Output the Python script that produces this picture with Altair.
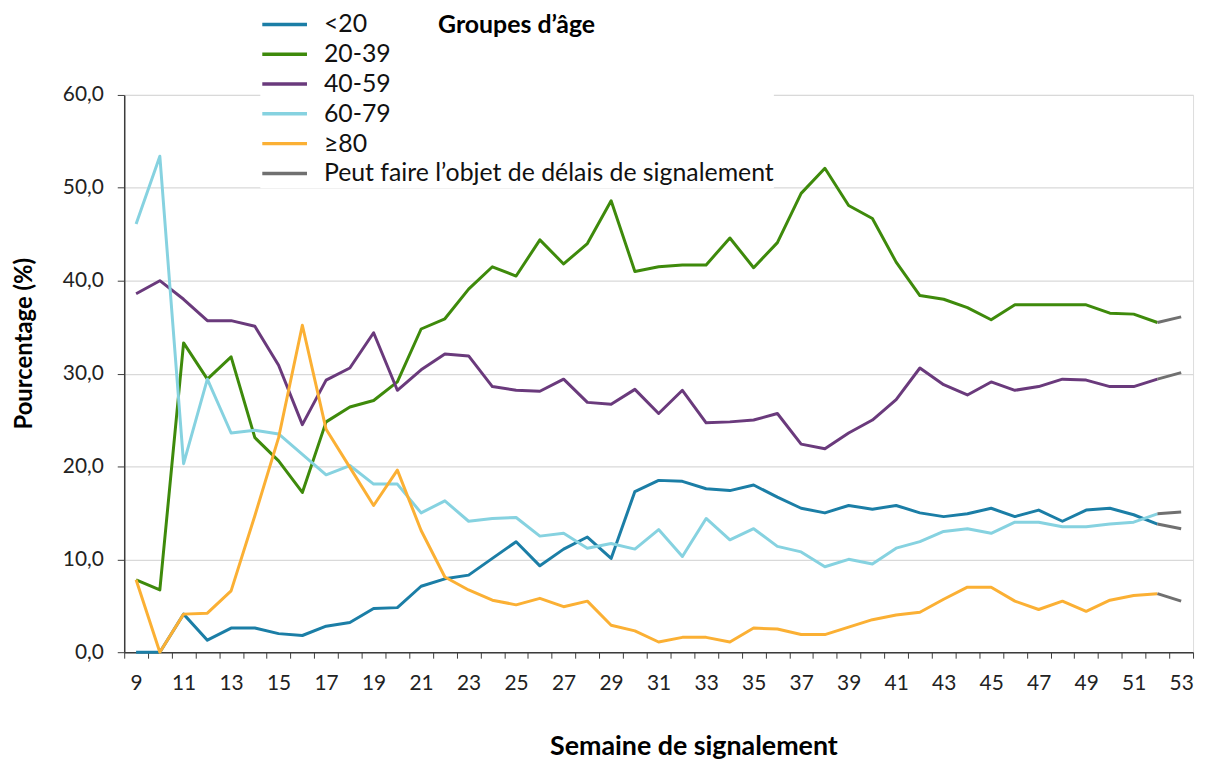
import altair as alt
import pandas as pd

weeks = list(range(9, 54))

series_names = ["<20", "20-39", "40-59", "60-79", "≥80"]
delay_name = "Peut faire l’objet de délais de signalement"

v_lt20 = [0.0, 0.0, 4.1, 1.3, 2.6, 2.6, 2.0, 1.8, 2.8, 3.2, 4.7, 4.8, 7.1, 7.9, 8.3,
          10.1, 11.9, 9.3, 11.1, 12.4, 10.1, 17.3, 18.5, 18.4, 17.6, 17.4, 18.0, 16.7,
          15.5, 15.0, 15.8, 15.4, 15.8, 15.0, 14.6, 14.9, 15.5, 14.6, 15.3, 14.1, 15.3,
          15.5, 14.8, 13.8, 13.3]
v_20_39 = [7.8, 6.7, 33.3, 29.4, 31.8, 23.1, 20.6, 17.2, 24.8, 26.4, 27.1, 29.1, 34.8,
           35.9, 39.1, 41.5, 40.5, 44.4, 41.8, 44.0, 48.6, 41.0, 41.5, 41.7, 41.7, 44.6,
           41.4, 44.1, 49.4, 52.1, 48.1, 46.7, 42.0, 38.4, 38.0, 37.1, 35.8, 37.4, 37.4,
           37.4, 37.4, 36.5, 36.4, 35.5, 36.1]
v_40_59 = [38.6, 40.0, 38.0, 35.7, 35.7, 35.1, 30.9, 24.5, 29.3, 30.6, 34.4, 28.2, 30.4,
           32.1, 31.9, 28.6, 28.2, 28.1, 29.4, 26.9, 26.7, 28.3, 25.7, 28.2, 24.7, 24.8,
           25.0, 25.7, 22.4, 21.9, 23.6, 25.0, 27.2, 30.6, 28.8, 27.7, 29.1, 28.2, 28.6,
           29.4, 29.3, 28.6, 28.6, 29.4, 30.1]
v_60_79 = [46.1, 53.4, 20.3, 29.4, 23.6, 23.9, 23.5, 21.3, 19.1, 20.1, 18.1, 18.1, 15.0,
           16.3, 14.1, 14.4, 14.5, 12.5, 12.8, 11.2, 11.7, 11.1, 13.2, 10.3, 14.4, 12.1,
           13.3, 11.4, 10.8, 9.2, 10.0, 9.5, 11.2, 11.9, 13.0, 13.3, 12.8, 14.0, 14.0,
           13.5, 13.5, 13.8, 14.0, 14.9, 15.1]
v_80 = [7.8, 0.0, 4.1, 4.2, 6.6, 14.7, 23.1, 35.2, 24.0, 19.9, 15.8, 19.6, 13.1, 8.1,
        6.7, 5.6, 5.1, 5.8, 4.9, 5.5, 2.9, 2.3, 1.1, 1.6, 1.6, 1.1, 2.6, 2.5, 1.9, 1.9,
        2.7, 3.5, 4.0, 4.3, 5.7, 7.0, 7.0, 5.5, 4.6, 5.5, 4.4, 5.6, 6.1, 6.3, 5.5]

colors = ["#1B7EA6", "#3E8A0B", "#6A3A7C", "#86D2E0", "#FBB034", "#707070"]

all_values = [v_lt20, v_20_39, v_40_59, v_60_79, v_80]
last_full_week = 52

rows = []
for name, vals in zip(series_names, all_values):
    for w, v in zip(weeks, vals):
        if w <= last_full_week:
            rows.append({"week": w, "value": v, "cat": name, "line": name})
        if w >= last_full_week:
            rows.append({"week": w, "value": v, "cat": delay_name, "line": name + " delai"})
df = pd.DataFrame(rows)

FONT = "Lato"

chart = alt.Chart(df).mark_line(strokeWidth=3, strokeJoin="round").encode(
    x=alt.X(
        "week:O",
        scale=alt.Scale(type="band", paddingInner=0, paddingOuter=0),
        axis=alt.Axis(
            title="Semaine de signalement",
            titleFont=FONT, titleFontSize=27, titleFontWeight="bold", titleColor="#000000",
            titleX=573, titleY=95, titleBaseline="middle",
            labelExpr="datum.value % 2 == 1 ? datum.label : ''",
            labelAngle=0, labelFont=FONT, labelFontSize=21, labelColor="#222222",
            labelPadding=15, tickBand="extent", tickSize=6, tickColor="#3c3c3c",
            domainColor="#3c3c3c", domainWidth=1.5, grid=False,
        ),
    ),
    y=alt.Y(
        "value:Q",
        scale=alt.Scale(domain=[0, 60], nice=False),
        axis=alt.Axis(
            title="Pourcentage (%)",
            titleFont=FONT, titleFontSize=24, titleFontWeight="bold", titleColor="#000000",
            titleX=-100, titleY=250, titleBaseline="middle",
            values=[0, 10, 20, 30, 40, 50, 60],
            labelExpr="replace(format(datum.value, '.1f'), '.', ',')",
            labelFont=FONT, labelFontSize=21, labelColor="#222222", labelPadding=14,
            tickSize=7, tickColor="#3c3c3c", domainColor="#3c3c3c", domainWidth=1.5,
            gridColor="#D9D9D9", gridWidth=1.2,
        ),
    ),
    color=alt.Color(
        "cat:N",
        scale=alt.Scale(domain=series_names + [delay_name], range=colors),
        legend=alt.Legend(
            orient="none", legendX=137, legendY=-82, direction="vertical",
            title="Groupes d’âge", titleOrient="top", titleAnchor="middle",
            titlePadding=-29, titleFont=FONT, titleFontSize=25, titleFontWeight="bold",
            titleColor="#000000",
            labelFont=FONT, labelFontSize=25, labelColor="#111111", labelLimit=0,
            labelOffset=15, symbolType="stroke", symbolSize=2025, symbolStrokeWidth=3.5,
            clipHeight=30, rowPadding=0, padding=0, fillColor="white",
        ),
    ),
    detail="line:N",
).properties(
    width=1076, height=561,
    padding={"left": 5, "top": 3, "right": 5, "bottom": 0},
).configure_view(stroke=None).configure(background="white")

chart.save("out.html", embed_options={"renderer": "svg", "actions": False})
